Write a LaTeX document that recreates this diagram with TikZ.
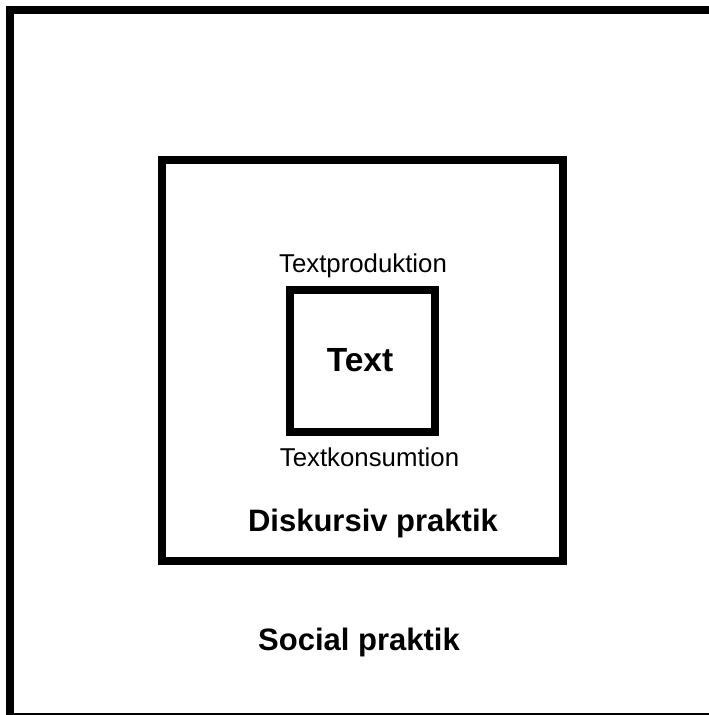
\documentclass[tikz,border=0pt]{standalone}
\usepackage{fontspec}
\setmainfont{Liberation Sans}
\begin{document}
\begin{tikzpicture}[x=1pt,y=-1pt,
  frame/.style={draw=black,line width=8pt,line join=miter},
  label/.style={anchor=base,inner sep=0pt,font=\fontsize{25.8}{30}\selectfont},
  heading/.style={anchor=base,inner sep=0pt,font=\fontsize{31}{37}\selectfont\bfseries}]
  \useasboundingbox (0,0) rectangle (709,715);
  \clip (0,0) rectangle (709,715);
  \fill[white] (0,0) rectangle (709,715);
  % nested practice levels
  \draw[frame] (10,10) rectangle (722,717);
  \draw[frame] (162,160) rectangle (563,561);
  \draw[frame] (290,290) rectangle (435,432);
  % labels
  \node[label] (prod) at (363,272) {Textproduktion};
  \node[anchor=base,inner sep=0pt,font=\fontsize{33.5}{40}\selectfont\bfseries] (text) at (360,371.5) {Text};
  \node[label] (kons) at (369.5,466.5) {Textkonsumtion};
  \node[heading] (disk) at (373,531.5) {Diskursiv praktik};
  \node[heading] (soc) at (359,650) {Social praktik};
\end{tikzpicture}
\end{document}
